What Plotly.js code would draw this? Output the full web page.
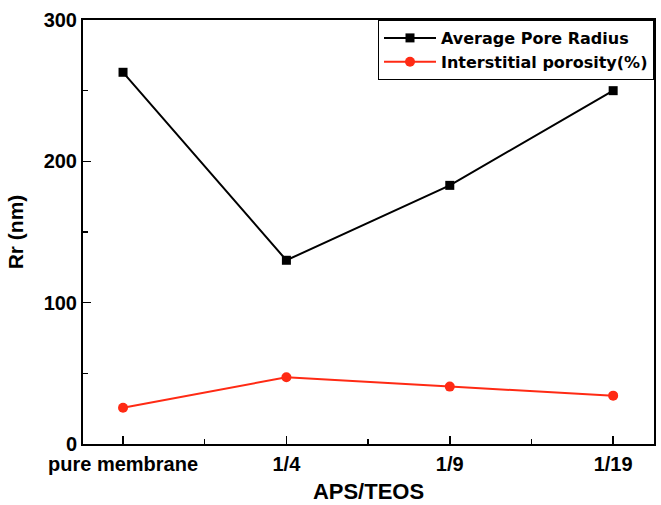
<!DOCTYPE html>
<html>
<head>
<meta charset="utf-8">
<script src="https://cdn.plot.ly/plotly-3.0.1.min.js"></script>
<style>html,body{margin:0;padding:0;background:#fff;}#chart{width:661px;height:505px;}</style>
</head>
<body>
<div id="chart"></div>
<script>
const categories = ["pure membrane", "1/4", "1/9", "1/19"];
const avgPoreRadius = [263, 130, 183, 250];
const interstitialPorosity = [25.7, 47.2, 40.6, 34.2];
const seriesNames = ["Average Pore Radius", "Interstitial porosity(%)"];
const xIdx = categories.map((c, i) => i);

const traces = [
  {
    x: xIdx, y: avgPoreRadius, name: seriesNames[0], type: "scatter", mode: "lines+markers",
    line: {color: "#000000", width: 2},
    marker: {symbol: "square", size: 9, color: "#000000"}
  },
  {
    x: xIdx, y: interstitialPorosity, name: seriesNames[1], type: "scatter", mode: "lines+markers",
    line: {color: "#ff2a14", width: 2},
    marker: {symbol: "circle", size: 10, color: "#ff2a14"}
  }
];

const fontFam = "Arial, 'Liberation Sans', sans-serif";
const layout = {
  width: 661, height: 505,
  margin: {l: 83, r: 7, t: 20, b: 61},
  paper_bgcolor: "#ffffff", plot_bgcolor: "#ffffff",
  font: {family: fontFam, color: "#000", size: 20, weight: "bold"},
  showlegend: true,
  legend: {
    x: 1, xanchor: "right", y: 1, yanchor: "top",
    bordercolor: "#000", borderwidth: 1, bgcolor: "#ffffff",
    font: {family: "'DejaVu Sans', sans-serif", size: 16, weight: "bold", color: "#000"},
    itemwidth: 52,
    tracegroupgap: 0
  },
  xaxis: {
    range: [-0.245, 3.25],
    tickmode: "array", tickvals: xIdx, ticktext: categories,
    ticks: "inside", ticklen: 8, tickwidth: 1.5, tickcolor: "#000",
    showline: true, linecolor: "#000", linewidth: 2, mirror: true,
    showgrid: false, zeroline: false,
    ticklabelstandoff: 1,
    tickfont: {family: fontFam, size: 20, weight: "bold"},
    minor: {tickmode: "array", tickvals: [0.5, 1.5, 2.5], ticks: "inside", ticklen: 5, tickwidth: 1.5, tickcolor: "#000", showgrid: false},
    title: {text: "APS/TEOS", font: {family: fontFam, size: 22, weight: "bold"}, standoff: 10}
  },
  yaxis: {
    range: [0, 300],
    tickmode: "linear", tick0: 0, dtick: 100,
    ticks: "inside", ticklen: 8, tickwidth: 1.5, tickcolor: "#000",
    showline: true, linecolor: "#000", linewidth: 2, mirror: true,
    showgrid: false, zeroline: false,
    tickfont: {family: fontFam, size: 20, weight: "bold"},
    minor: {tickmode: "linear", tick0: 0, dtick: 50, ticks: "inside", ticklen: 5, tickwidth: 1.5, tickcolor: "#000", showgrid: false},
    title: {text: "Rr (nm)", font: {family: fontFam, size: 21, weight: "bold"}, standoff: 14}
  }
};

Plotly.newPlot("chart", traces, layout, {displayModeBar: false, staticPlot: true});
</script>
</body>
</html>
